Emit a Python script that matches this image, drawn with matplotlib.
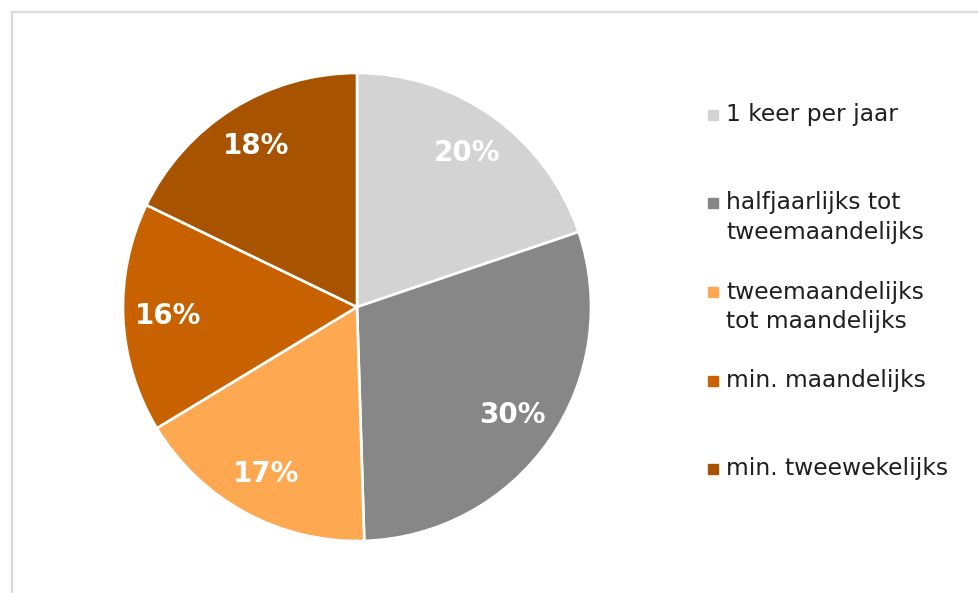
import matplotlib
matplotlib.use("Agg")
import matplotlib.pyplot as plt
from matplotlib.patches import Rectangle

categories = ["1 keer per jaar",
              "halfjaarlijks tot\ntweemaandelijks",
              "tweemaandelijks\ntot maandelijks",
              "min. maandelijks",
              "min. tweewekelijks"]
shares = [20, 30, 17, 16, 18]
colors = ["#D3D3D3", "#878787", "#FFA852", "#C86100", "#A85300"]

W, H = 979, 593
fig = plt.figure(figsize=(W / 100, H / 100), dpi=100)
fig.patch.set_facecolor("white")

# light grey frame, running off the right and bottom edge
fig.patches.append(Rectangle((12 / W, -0.1), 1.2, 1 - 12 / H + 0.1,
                             transform=fig.transFigure, fill=False,
                             edgecolor="#D9D9D9", lw=1.6, clip_on=False))

cx, cy, r = 357, H - 307, 234
ax = fig.add_axes([(cx - r) / W, (cy - r) / H, 2 * r / W, 2 * r / H])
wedges, texts, autotexts = ax.pie(
    shares, colors=colors, startangle=90, counterclock=False, radius=1,
    autopct=lambda p: "%d%%" % round(p * sum(shares) / 100),
    pctdistance=0.81,
    wedgeprops=dict(edgecolor="white", linewidth=1.9),
    textprops=dict(color="white", fontsize=20, fontweight="bold"))
ax.set_xlim(-1, 1)
ax.set_ylim(-1, 1)
ax.set_aspect("equal")
ax.axis("off")

# legend drawn by hand on the right
rows = [115, 203, 292, 381, 469]
line_gap = 29
for label, col, y in zip(categories, colors, rows):
    fig.patches.append(Rectangle((708 / W, 1 - (y + 5) / H), 10 / W, 10 / H,
                                 transform=fig.transFigure, color=col))
    for i, line in enumerate(label.split("\n")):
        fig.text(726 / W, 1 - (y + i * line_gap) / H, line,
                 fontsize=16.8, color="#1F1F1F", ha="left", va="center")

fig.savefig("out.png", dpi=100)
